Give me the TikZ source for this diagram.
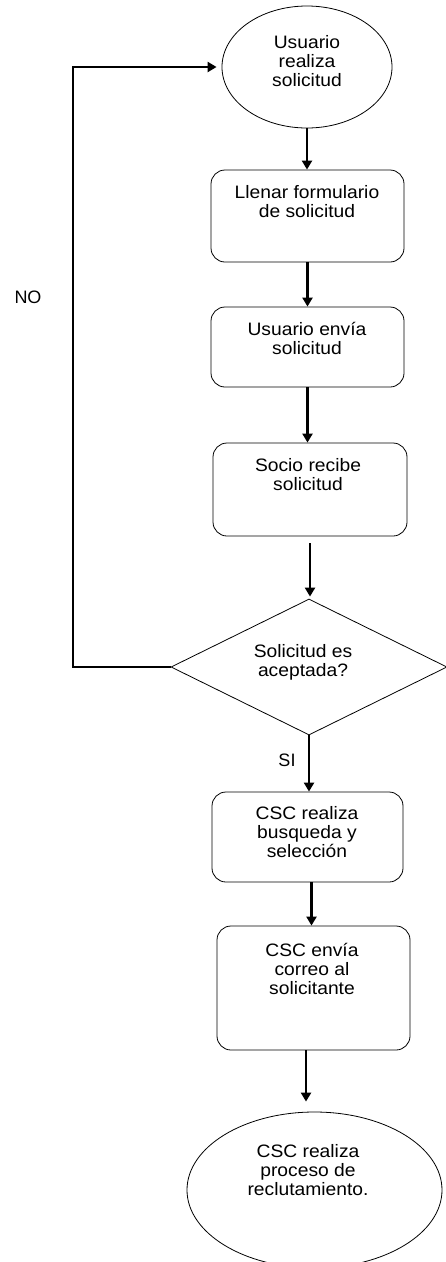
\documentclass[tikz,border=0pt]{standalone}
\usepackage{fontspec}
\setmainfont{Liberation Sans}
\newfontfamily\flowfont[FakeStretch=1.07]{Liberation Sans}
\usetikzlibrary{arrows.meta,shapes.geometric}

\tikzset{
  shape line/.style={draw=black, line width=0.8pt},
  procbox/.style={shape line, rectangle, rounded corners=14pt, inner sep=0pt},
  terminal/.style={shape line, ellipse, inner sep=0pt},
  decision/.style={shape line, diamond, inner sep=0pt},
  label text/.style={font=\flowfont\fontsize{18pt}{19pt}\selectfont, align=center,
                     inner sep=0pt, text depth=0pt},
  side text/.style={font=\fontsize{18pt}{19pt}\selectfont, inner sep=0pt},
  conn/.style={draw=black, line width=2.2pt,
               -{Triangle[length=9pt,width=10pt]}},
  plain conn/.style={draw=black, line width=2.2pt}
}

\begin{document}
\begin{tikzpicture}[x=1pt, y=-1pt]
  \useasboundingbox (0,0) rectangle (446,1262);

  % shapes
  \node[terminal, minimum width=170pt, minimum height=122pt] (e1) at (307,67) {};
  \node[procbox, minimum width=193pt, minimum height=92pt]  (b1) at (307.5,216) {};
  \node[procbox, minimum width=193pt, minimum height=80pt]  (b2) at (307.5,347) {};
  \node[procbox, minimum width=194pt, minimum height=93pt]  (b3) at (310,489.5) {};
  \node[decision, minimum width=276pt, minimum height=136pt] (d) at (309,667) {};
  \node[procbox, minimum width=191pt, minimum height=90pt]  (b4) at (307.5,837) {};
  \node[procbox, minimum width=193pt, minimum height=124pt] (b5) at (313.5,988) {};
  \node[terminal, minimum width=255pt, minimum height=156pt] (e2) at (314.5,1190) {};

  % texts
  \node[label text] (te1) at (307,61)   {Usuario\\realiza\\solicitud};
  \node[label text] (tb1) at (307,201)  {Llenar formulario\\de solicitud};
  \node[label text] (tb2) at (307,338)  {Usuario envía\\solicitud};
  \node[label text] (tb3) at (308,474)  {Socio recibe\\solicitud};
  \node[label text] (td)  at (303,660)  {Solicitud es\\aceptada?};
  \node[label text] (tb4) at (307,832)  {CSC realiza\\busqueda y\\selección};
  \node[label text] (tb5) at (312,969)  {CSC envía\\correo al\\solicitante};
  \node[label text] (te2) at (308,1170) {CSC realiza\\proceso de\\reclutamiento.};

  \node[side text] (no) at (28,297)  {NO};
  \node[side text] (si) at (287,760) {SI};

  % connectors
  \draw[conn] (e1.south) -- (e1.south |- b1.north);
  \draw[conn] (b1.south) -- (b1.south |- b2.north);
  \draw[conn] (b2.south) -- (b2.south |- b3.north);
  \draw[conn, shorten <=7pt, shorten >=2pt] (b3.south) -- (b3.south |- d.north);
  \draw[conn] (d.south) -- (d.south |- b4.north);
  \draw[conn] ([xshift=4pt]b4.south) -- ([xshift=4pt]b4.south |- b5.north);
  \draw[conn, shorten >=10pt] ([xshift=-7.5pt]b5.south) -- ([xshift=-7.5pt]b5.south |- e2.north);

  % rejected request goes back to the start
  \coordinate (lc) at (73,667);
  \draw[conn, shorten >=5pt] (d.west) -- (lc) |- (e1.west);
\end{tikzpicture}
\end{document}
